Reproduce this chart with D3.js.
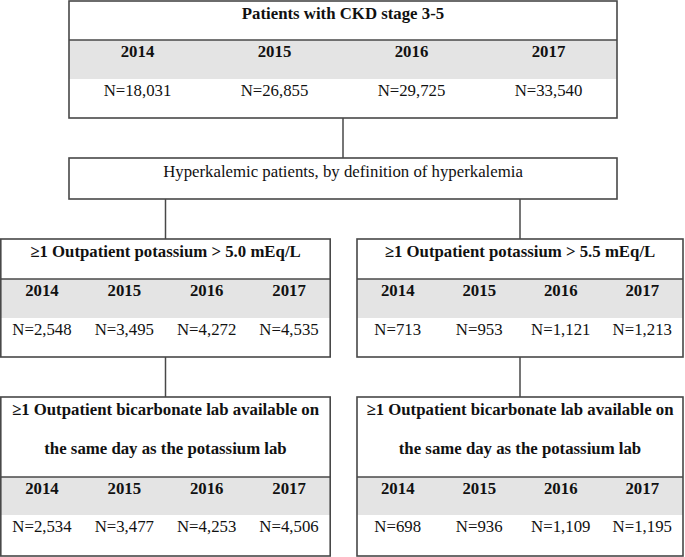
<!DOCTYPE html>
<html>
<head>
<meta charset="utf-8">
<script src="https://cdn.jsdelivr.net/npm/d3@7"></script>
<style>
  body { margin: 0; background: #fff; }
  svg text { font-family: "Liberation Serif", "Times New Roman", serif; fill: #111; }
</style>
</head>
<body>
<svg id="chart" width="685" height="557"></svg>
<script>
// data
const years = ["2014", "2015", "2016", "2017"];
const ckdCounts = [18031, 26855, 29725, 33540];
const k50Counts = [2548, 3495, 4272, 4535];
const k55Counts = [713, 953, 1121, 1213];
const k50BicarbCounts = [2534, 3477, 4253, 4506];
const k55BicarbCounts = [698, 936, 1109, 1195];

const ckdTitle = ["Patients with CKD stage 3-5"];
const hyperTitle = "Hyperkalemic patients, by definition of hyperkalemia";
const k50Title = ["\u22651 Outpatient potassium > 5.0 mEq/L"];
const k55Title = ["\u22651 Outpatient potassium > 5.5 mEq/L"];
const bicarbTitle = ["\u22651 Outpatient bicarbonate lab available on",
                     "the same day as the potassium lab"];

const svg = d3.select("#chart");
const fmt = d3.format(",");
const stroke = "#484848";
const gray = "#e4e4e4";
const fs = 16.8;

// box with title rows, a gray year row and a count row
function drawBox(x, w, rows, title, counts) {
  const g = svg.append("g");
  const col = d3.scaleBand().domain(years).range([x, x + w]);

  g.append("rect")
      .attr("x", x).attr("y", rows[1])
      .attr("width", w).attr("height", rows[2] - rows[1])
      .attr("fill", gray);

  g.append("line")
      .attr("x1", x).attr("x2", x + w)
      .attr("y1", rows[1]).attr("y2", rows[1])
      .attr("stroke", stroke).attr("stroke-width", 1.5);

  g.append("rect")
      .attr("x", x).attr("y", rows[0])
      .attr("width", w).attr("height", rows[3] - rows[0])
      .attr("fill", "none")
      .attr("stroke", stroke).attr("stroke-width", 1.6);

  const lineGap = 39;
  g.selectAll(".title").data(title).join("text")
      .attr("class", "title")
      .attr("x", x + w / 2)
      .attr("y", (d, i) => rows[0] + 17.8 + i * lineGap)
      .attr("text-anchor", "middle")
      .attr("font-size", fs)
      .attr("font-weight", "bold")
      .text(d => d);

  g.selectAll(".year").data(years).join("text")
      .attr("class", "year")
      .attr("x", d => col(d) + col.bandwidth() / 2)
      .attr("y", rows[1] + 16.8)
      .attr("text-anchor", "middle")
      .attr("font-size", fs)
      .attr("font-weight", "bold")
      .text(d => d);

  g.selectAll(".count").data(counts).join("text")
      .attr("class", "count")
      .attr("x", (d, i) => col(years[i]) + col.bandwidth() / 2)
      .attr("y", rows[2] + 16.8)
      .attr("text-anchor", "middle")
      .attr("font-size", fs)
      .text(d => "N=" + fmt(d));
}

function connector(x, y1, y2) {
  svg.append("line")
      .attr("x1", x).attr("x2", x)
      .attr("y1", y1).attr("y2", y2)
      .attr("stroke", stroke).attr("stroke-width", 1.5);
}

const leftX = 0.8, leftW = 329.4;
const rightX = 357, rightW = 326;

drawBox(69, 548, [1, 40, 79, 118], ckdTitle, ckdCounts);

// hyperkalemia definition box
svg.append("rect")
    .attr("x", 69).attr("y", 158)
    .attr("width", 548).attr("height", 41)
    .attr("fill", "none")
    .attr("stroke", stroke).attr("stroke-width", 1.6);
svg.append("text")
    .attr("x", 69 + 548 / 2).attr("y", 176.8)
    .attr("text-anchor", "middle")
    .attr("font-size", fs)
    .text(hyperTitle);

drawBox(leftX, leftW, [239, 279, 318, 357], k50Title, k50Counts);
drawBox(rightX, rightW, [239, 279, 318, 357], k55Title, k55Counts);
drawBox(leftX, leftW, [397, 477, 515, 556], bicarbTitle, k50BicarbCounts);
drawBox(rightX, rightW, [397, 477, 515, 556], bicarbTitle, k55BicarbCounts);

connector(343, 118, 158);
connector(leftX + leftW / 2, 199, 239);
connector(rightX + rightW / 2, 199, 239);
connector(leftX + leftW / 2, 357, 397);
connector(rightX + rightW / 2, 357, 397);
</script>
</body>
</html>
